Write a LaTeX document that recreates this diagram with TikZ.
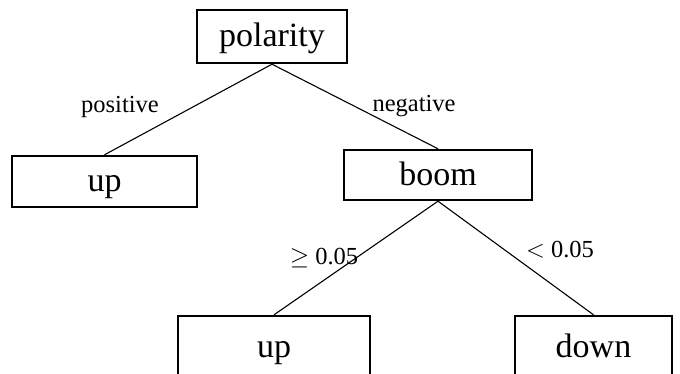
\documentclass[tikz,border=0pt]{standalone}
\usepackage{fontspec}
\setmainfont{Liberation Serif}
\begin{document}
\begin{tikzpicture}[x=1pt,y=-1pt,
  box/.style={draw=black,line width=2.4pt,inner sep=0pt,text height=21pt,text depth=0pt,
    font=\fontsize{34}{38}\selectfont},
  edge/.style={draw=black,line width=1.1pt},
  lbl/.style={inner sep=0pt,font=\fontsize{24.5}{28}\selectfont}]
  \useasboundingbox (0,0) rectangle (680,374);
  \clip (0,0) rectangle (680,374);
  % decision nodes
  \node[box,minimum width=150pt,minimum height=53pt] (root) at (272,36.5) {polarity};
  \node[box,minimum width=185pt,minimum height=51pt] (upA) at (104.5,181.5) {up};
  \node[box,minimum width=188pt,minimum height=50pt] (boom) at (438,175) {boom};
  \node[box,minimum width=192pt,minimum height=62pt] (upB) at (274,347) {up};
  \node[box,minimum width=157pt,minimum height=62pt] (down) at (593.5,347) {down};
  % branches
  \draw[edge] (root.south) -- (upA.north);
  \draw[edge] (root.south) -- (boom.north);
  \draw[edge] (boom.south) -- (upB.north);
  \draw[edge] (boom.south) -- (down.north);
  % branch labels
  \node[lbl] (lpos) at (120,107) {positive};
  \node[lbl] (lneg) at (414,106) {negative};
  \node[lbl] (lge) at (324,258) {$\geq$ 0.05};
  \node[lbl] (llt) at (560,250) {$<$ 0.05};
\end{tikzpicture}
\end{document}
